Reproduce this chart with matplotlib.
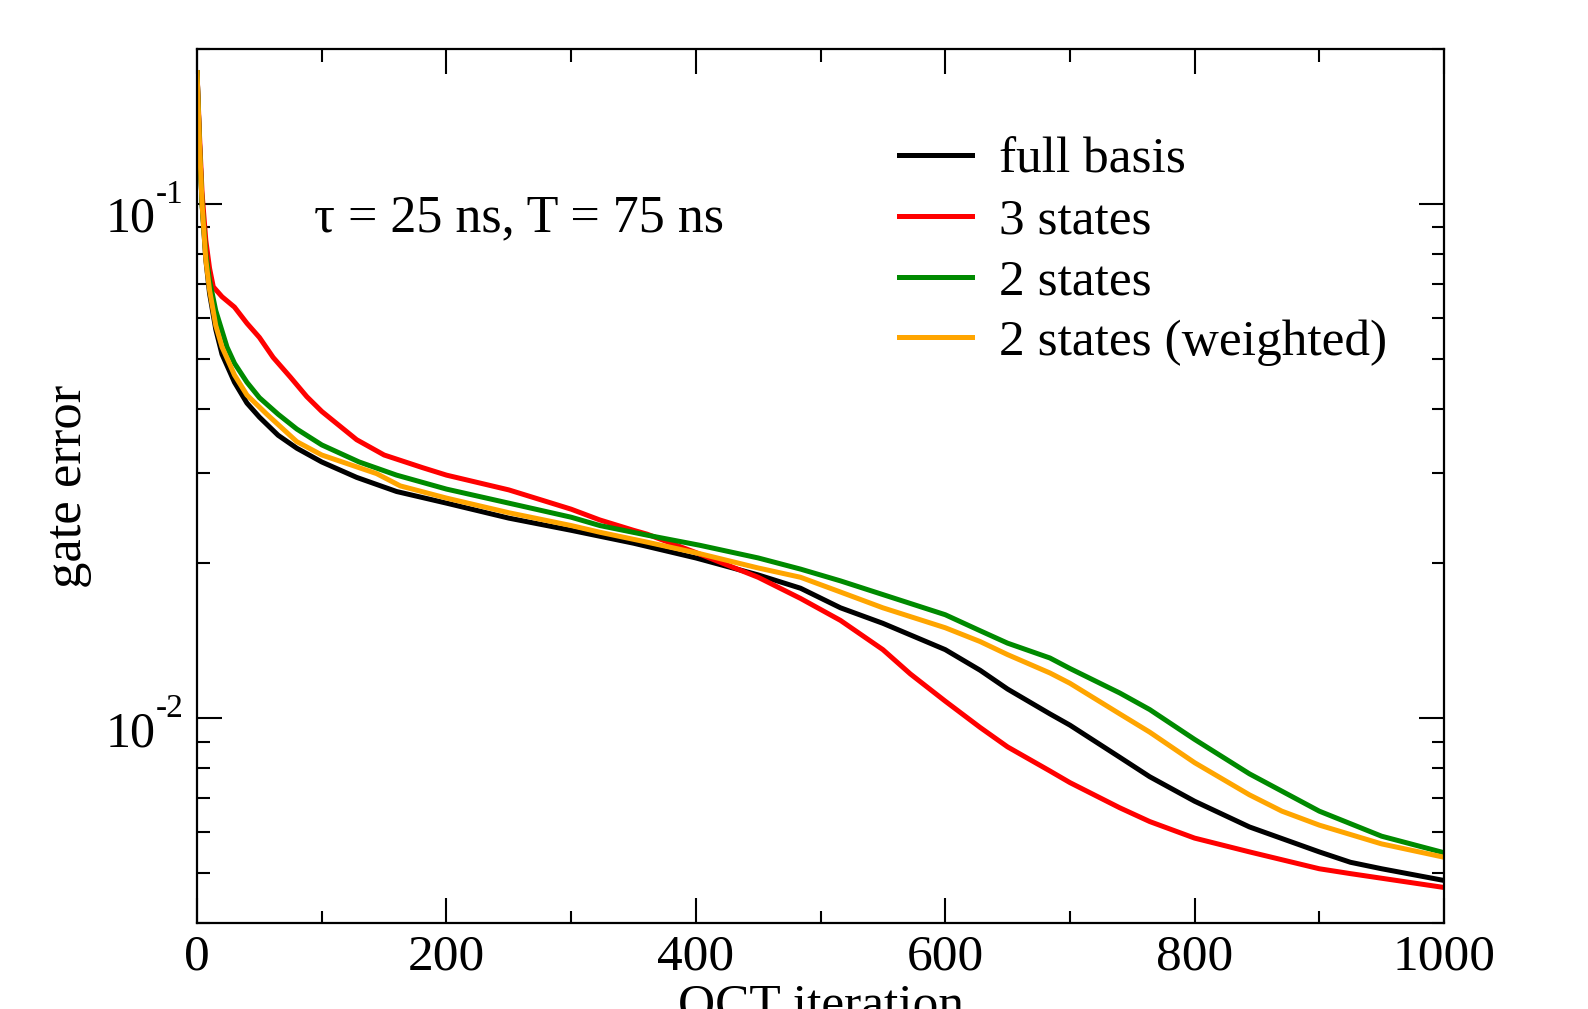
import numpy as np
import matplotlib
matplotlib.use('Agg')
import matplotlib.pyplot as plt
from matplotlib.ticker import FixedLocator, MultipleLocator, LogLocator, NullFormatter

plt.rcParams['font.family'] = ['Liberation Serif', 'DejaVu Serif']

# ---- data ----
it_full = [0, 2, 4, 7, 10, 15, 20, 30, 40, 50, 65, 80, 100, 128, 160, 200, 250, 300, 350, 400,
           450, 484, 516, 550, 600, 628, 650, 684, 700, 740, 764, 800, 844, 900, 925, 950, 1000]
err_full = [0.18, 0.13, 0.10, 0.078, 0.067, 0.057, 0.051, 0.045, 0.041, 0.0385, 0.0355, 0.0335, 0.0315,
            0.0294, 0.0276, 0.0262, 0.0245, 0.0232, 0.0219, 0.0205,
            0.0190, 0.0179, 0.0164, 0.0153, 0.0136, 0.0124, 0.0114, 0.0102, 0.0097, 0.0084, 0.0077,
            0.0069, 0.00615, 0.0055, 0.00525, 0.0051, 0.00484]

it_3st = [0, 2, 4, 7, 10, 13, 20, 30, 40, 50, 61, 75, 88, 100, 128, 150, 181, 200, 250, 300, 323,
          350, 361, 400, 450, 484, 516, 550, 572, 600, 628, 650, 684, 700, 740, 764, 800, 844, 900,
          925, 1000]
err_3st = [0.18, 0.135, 0.105, 0.085, 0.075, 0.069, 0.066, 0.063, 0.0586, 0.055, 0.0503, 0.046, 0.0422,
           0.0395, 0.0348, 0.0325, 0.0307, 0.0297, 0.0278, 0.0255, 0.0243,
           0.0232, 0.0228, 0.0210, 0.0188, 0.0171, 0.0155, 0.0136, 0.0122, 0.0108, 0.0096, 0.0088,
           0.0079, 0.0075, 0.0067, 0.0063, 0.00585, 0.0055, 0.0051, 0.00499, 0.00469]

it_2st = [0, 2, 4, 7, 10, 15, 24, 30, 40, 50, 65, 80, 100, 130, 160, 200, 250, 300, 323, 361, 403,
          450, 484, 516, 550, 600, 628, 650, 684, 700, 740, 764, 800, 844, 900, 950, 1000]
err_2st = [0.18, 0.13, 0.10, 0.08, 0.071, 0.062, 0.0527, 0.049, 0.045, 0.042, 0.039, 0.0365, 0.0340,
           0.0315, 0.0297, 0.0279, 0.0262, 0.0246, 0.0237, 0.0227, 0.0217,
           0.0205, 0.0195, 0.0185, 0.0174, 0.0159, 0.0148, 0.0140, 0.0131, 0.0125, 0.0112, 0.0104,
           0.0091, 0.0078, 0.0066, 0.0059, 0.00548]

it_2w = [0, 2, 4, 7, 10, 15, 20, 30, 40, 56, 80, 100, 144, 163, 200, 250, 300, 323, 361, 403, 450,
         484, 516, 550, 600, 628, 650, 684, 700, 740, 764, 800, 844, 870, 900, 950, 1000]
err_2w = [0.18, 0.13, 0.10, 0.078, 0.068, 0.058, 0.0527, 0.0465, 0.0425, 0.039, 0.0345, 0.0325, 0.0299,
          0.0283, 0.0268, 0.0251, 0.0237, 0.0230, 0.0220, 0.0209, 0.0196,
          0.0188, 0.0176, 0.0164, 0.0150, 0.0141, 0.0133, 0.01225, 0.0117, 0.0102, 0.0094,
          0.0082, 0.0071, 0.0066, 0.0062, 0.0057, 0.00537]

labels = ['full basis', '3 states', '2 states', '2 states (weighted)']
colors = ['black', '#ff0000', '#008a00', '#ffa500']
y_decades = [0.01, 0.1]

fig = plt.figure(figsize=(15.88, 10.09), dpi=100)
ax = fig.add_axes([0.1241, 0.0852, 0.7852, 0.8662])

for xs, ys, lab, c in zip([it_full, it_3st, it_2st, it_2w], [err_full, err_3st, err_2st, err_2w], labels, colors):
    ax.plot(xs, ys, color=c, lw=3.6, label=lab, solid_joinstyle='round')

ax.set_yscale('log')
ax.set_xlim(0, 1000)
ax.set_ylim(0.004, 0.2)

ax.xaxis.set_major_locator(MultipleLocator(200))
ax.xaxis.set_minor_locator(MultipleLocator(100))
ax.yaxis.set_major_locator(FixedLocator(y_decades))
ax.yaxis.set_minor_locator(LogLocator(base=10, subs=np.arange(2, 10)))
ax.yaxis.set_major_formatter(NullFormatter())
ax.yaxis.set_minor_formatter(NullFormatter())

# decade labels drawn by hand so the exponent sits high like in grace
ytr = ax.get_yaxis_transform()
for v in y_decades:
    e = int(round(np.log10(v)))
    ax.annotate('10', xy=(0, v), xycoords=ytr, xytext=(-30, -20), textcoords='offset points',
                ha='right', va='baseline', fontsize=36)
    ax.annotate('-%d' % abs(e), xy=(0, v), xycoords=ytr, xytext=(-29.5, 1), textcoords='offset points',
                ha='left', va='baseline', fontsize=24)

ax.tick_params(which='both', direction='in', top=True, right=True, width=1.5, labelsize=37)
ax.tick_params(which='major', length=18)
ax.tick_params(which='minor', length=9)
ax.tick_params(axis='x', pad=8)
for s in ax.spines.values():
    s.set_linewidth(1.6)

ax.set_ylabel('gate error', fontsize=38, labelpad=72)
ax.set_xlabel('OCT iteration', fontsize=37, labelpad=2)

ax.text(0.094, 0.806, r'τ = 25 ns, T = 75 ns', transform=ax.transAxes, fontsize=37.5,
        va='center', ha='left')

ax.legend(loc='upper left', bbox_to_anchor=(0.5464, 0.923), frameon=False, fontsize=37,
          handlelength=1.42, handletextpad=0.53, labelspacing=0.27, borderaxespad=0)

fig.savefig('out.png', dpi=100)
